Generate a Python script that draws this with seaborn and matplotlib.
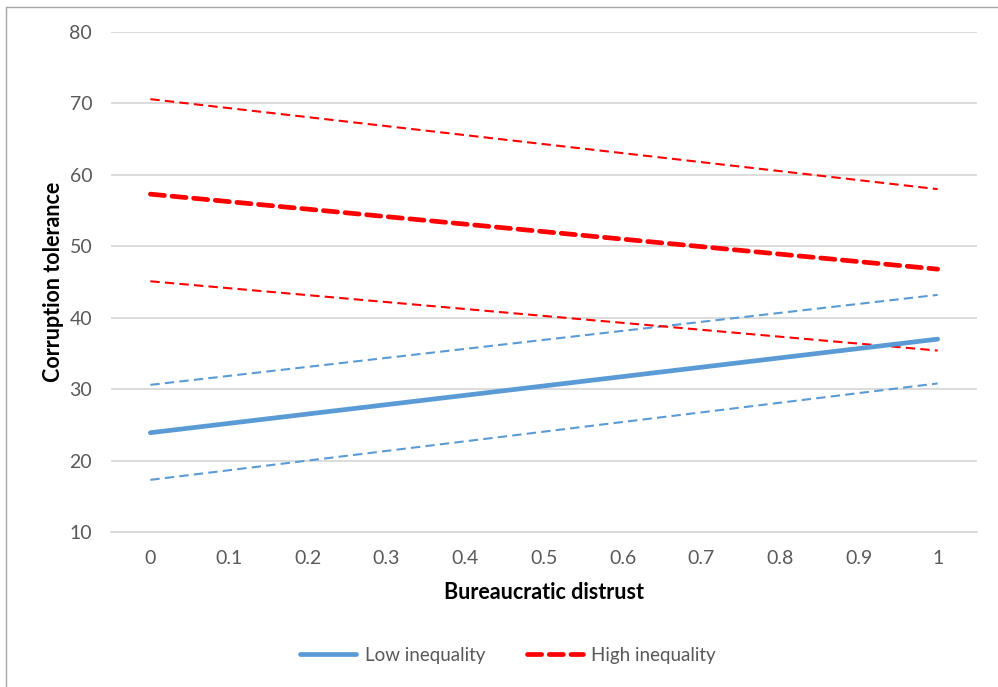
import matplotlib
matplotlib.use("Agg")
import matplotlib.pyplot as plt
from matplotlib.lines import Line2D
import seaborn as sns
import pandas as pd

# Predicted corruption tolerance at the ends of the distrust scale
distrust = [0.0, 1.0]
low_fit = [23.9, 37.0]
low_lower = [17.3, 30.8]
low_upper = [30.6, 43.2]
high_fit = [57.3, 46.8]
high_lower = [45.1, 35.4]
high_upper = [70.6, 58.0]

x_ticks = [0, 0.1, 0.2, 0.3, 0.4, 0.5, 0.6, 0.7, 0.8, 0.9, 1]
x_tick_labels = ["0", "0.1", "0.2", "0.3", "0.4", "0.5", "0.6", "0.7", "0.8", "0.9", "1"]
y_ticks = [10, 20, 30, 40, 50, 60, 70, 80]

BLUE = "#5B9BD5"
RED = "#FF0000"
TEXT = "#595959"
GRID = "#D9D9D9"

sns.set_theme(style="white")
plt.rcParams["font.family"] = ["Lato", "DejaVu Sans"]

fig = plt.figure(figsize=(9.98, 6.87), dpi=100)
ax = fig.add_axes([111 / 998, 1 - 532 / 687, (977 - 111) / 998, (532 - 32) / 687])

df = pd.DataFrame({"distrust": distrust})
series = [
    (low_upper, BLUE, 1.5, (4.5, 2.5), "butt"),
    (low_lower, BLUE, 1.5, (4.5, 2.5), "butt"),
    (high_upper, RED, 1.5, (4.5, 2.5), "butt"),
    (high_lower, RED, 1.5, (4.5, 2.5), "butt"),
    (low_fit, BLUE, 3.4, None, "round"),
    (high_fit, RED, 3.4, (3.0, 1.6), "round"),
]
for vals, color, lw, dash, cap in series:
    d = df.assign(value=vals)
    line_ax = sns.lineplot(x="distrust", y="value", data=d, ax=ax, color=color, linewidth=lw)
    ln = line_ax.lines[-1]
    ln.set_solid_capstyle(cap)
    ln.set_dash_capstyle(cap)
    if dash is not None:
        ln.set_linestyle((0, dash))

ax.set_xlim(-0.05, 1.05)
ax.set_ylim(10, 80)
ax.set_xticks(x_ticks)
ax.set_xticklabels(x_tick_labels)
ax.set_yticks(y_ticks)
ax.tick_params(axis="both", length=0, labelsize=14, labelcolor=TEXT)
ax.tick_params(axis="x", pad=13)
ax.tick_params(axis="y", pad=13.5)
ax.yaxis.grid(True, color=GRID, linewidth=1.3)
ax.xaxis.grid(False)
for side in ["top", "right", "left"]:
    ax.spines[side].set_visible(False)
ax.spines["bottom"].set_color(GRID)
ax.spines["bottom"].set_linewidth(1.3)

ax.set_xlabel("Bureaucratic distrust", fontsize=15.5, fontweight="bold", color="black", labelpad=11)
ax.set_ylabel("Corruption tolerance", fontsize=15.5, fontweight="bold", color="black", labelpad=4)

handles = [
    Line2D([], [], color=BLUE, linewidth=3.4, solid_capstyle="round"),
    Line2D([], [], color=RED, linewidth=3.4, linestyle=(0, (3.0, 1.6)), dash_capstyle="round"),
]
fig.legend(handles, ["Low inequality", "High inequality"], loc="center",
           bbox_to_anchor=(508 / 998, 1 - 655 / 687), ncol=2, frameon=False,
           fontsize=13.5, labelcolor=TEXT, handlelength=3.0, columnspacing=2.2,
           handletextpad=0.45)

# chart frame along the top and left edges
fig.add_artist(Line2D([6 / 998, 1], [1 - 7 / 687, 1 - 7 / 687], color="#A6A6A6", linewidth=1.0))
fig.add_artist(Line2D([6 / 998, 6 / 998], [0, 1 - 7 / 687], color="#A6A6A6", linewidth=1.0))

fig.savefig("out.png", dpi=100, facecolor="white")
